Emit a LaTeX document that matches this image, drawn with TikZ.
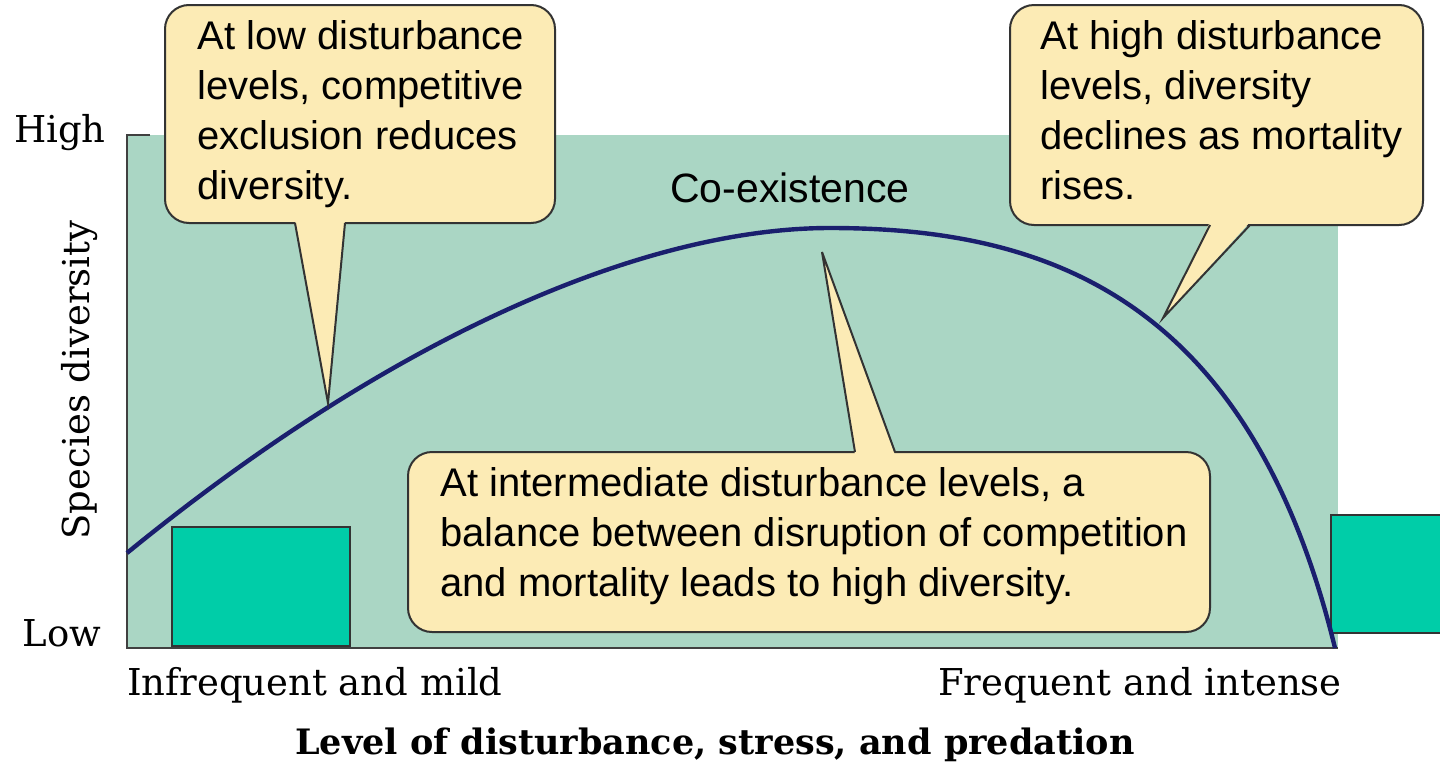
\documentclass[tikz,border=0pt]{standalone}
\usepackage{fontspec}
\setmainfont{DejaVu Serif}
\setsansfont{Liberation Sans}
\begin{document}
\begin{tikzpicture}[x=0.5pt,y=-0.5pt,
  callout/.style={fill=calloutfill,draw=black!80,line width=1pt,rounded corners=12pt},
  ctext/.style={font=\sffamily\fontsize{20}{25}\selectfont,align=left,inner sep=0pt,anchor=north west},
  serif/.style={font=\fontsize{18.5}{22}\selectfont,inner sep=0pt},
  smallbox/.style={fill=boxteal,draw=black!80,line width=0.8pt}]
\definecolor{panel}{HTML}{AAD6C4}
\definecolor{calloutfill}{HTML}{FCEBB5}
\definecolor{boxteal}{HTML}{00CDA8}
\definecolor{curvec}{HTML}{1A1F6E}
\useasboundingbox (0,0) rectangle (1440,777);
\fill[white] (0,0) rectangle (1440,777);
\fill[panel] (127,135) rectangle (1338,648);
\draw[black!75,line width=1.2pt] (150,135) -- (127,135) -- (127,648) -- (1338,648);
\node[smallbox,minimum width=89pt,minimum height=59.5pt,anchor=north west] (sb1) at (171,526) {};
\node[smallbox,minimum width=60pt,minimum height=59pt,anchor=north west] (sb2) at (1330,514) {};
\draw[curvec,line width=2.2pt] (127,553) .. controls (400,330) and (650,228) .. (830,228)
  .. controls (1050,228) and (1250,300) .. (1335,648);
\node[serif] (high) at (60,133) {High};
\node[serif] (low) at (62,633) {Low};
\node[serif,rotate=90] (yl) at (80,380) {Species diversity};
\node[serif] (xl1) at (315,685) {Infrequent and mild};
\node[serif] (xl2) at (1140,685) {Frequent and intense};
\node[font=\bfseries\fontsize{17.5}{22}\selectfont] (xt) at (715,745) {Level of disturbance, stress, and predation};
\node[font=\sffamily\fontsize{20.5}{22}\selectfont] (co) at (790,188) {Co-existence};
% callout 1
\draw[callout] (165,5) rectangle (555,223);
\fill[calloutfill] (295,220) -- (328,403) -- (345,220) -- cycle;
\draw[black!80,line width=1pt] (295,223) -- (328,403) -- (345,223);
\node[ctext] (t1) at (197,20) {At low disturbance\\levels, competitive\\exclusion reduces\\diversity.};
% callout 2
\draw[callout] (1010,5) rectangle (1423,225);
\fill[calloutfill] (1210,222) -- (1163,318) -- (1250,222) -- cycle;
\draw[black!80,line width=1pt] (1210,225) -- (1163,318) -- (1250,225);
\node[ctext] (t2) at (1040,20) {At high disturbance\\levels, diversity\\declines as mortality\\rises.};
% callout 3
\draw[callout] (408,452) rectangle (1210,632);
\fill[calloutfill] (855,455) -- (822,252) -- (895,455) -- cycle;
\draw[black!80,line width=1pt] (855,452) -- (822,252) -- (895,452);
\node[ctext] (t3) at (440,467) {At intermediate disturbance levels, a\\balance between disruption of competition\\and mortality leads to high diversity.};
\end{tikzpicture}
\end{document}
